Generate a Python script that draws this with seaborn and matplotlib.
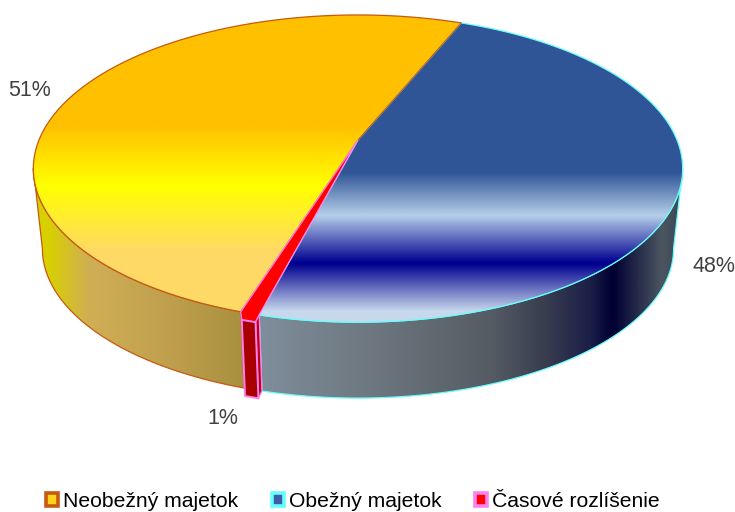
import numpy as np
import matplotlib
matplotlib.use("Agg")
import matplotlib.pyplot as plt
from matplotlib.colors import ListedColormap
from matplotlib.patches import Patch, Polygon
import seaborn as sns

categories = ["Neobežný majetok", "Obežný majetok", "Časové rozlíšenie"]
values = [51.3, 47.9, 0.8]
label_text = ["51%", "48%", "1%"]

edge_colors = ["#C55A11", "#66FFFF", "#FF80F0"]
legend_fill = ["#FFD21E", "#3F5CA8", "#FF0000"]

sns.set_theme(style="white")
plt.rcParams["font.family"] = ["Liberation Sans", "DejaVu Sans"]

W, H = 735, 512
CX, CY = 358.0, 140.0
K, A, B = 0.186, 148.3, 319.0
BOTTOM_SCALE, BOTTOM_CY = 0.972, 221.0
FIRST = 197.6
EXPLODE = (1.0, 8.0)


def rim(t_deg):
    t = np.radians(np.asarray(t_deg, dtype=float))
    w = 1 + K * np.cos(t)
    return CX + B * np.sin(t) / w, CY - A * np.cos(t) / w


def lower(x, y):
    """Map a point on the top face to the matching point on the bottom face."""
    return CX + BOTTOM_SCALE * (x - CX), BOTTOM_CY + BOTTOM_SCALE * (y - CY)


def ramp(stops, n=256):
    """Build a colormap from (position, colour) stops with seaborn blends."""
    lo, hi = stops[0][0], stops[-1][0]
    cols = []
    for (p0, c0), (p1, c1) in zip(stops[:-1], stops[1:]):
        m = max(2, int(round(n * (p1 - p0) / (hi - lo))))
        cols += list(sns.blend_palette([c0, c1], m))
    return ListedColormap(cols), lo, hi


def fill(ax, pts, stops, vertical, z):
    cmap, lo, hi = ramp(stops)
    grad = np.linspace(0, 1, 512)
    if vertical:
        img, ext = grad[:, None], (0, W, hi, lo)
    else:
        img, ext = grad[None, :], (lo, hi, H, 0)
    im = ax.imshow(img, cmap=cmap, extent=ext, aspect="auto", zorder=z,
                   interpolation="bilinear", vmin=0, vmax=1)
    clip = Polygon(pts, closed=True, transform=ax.transData)
    im.set_clip_path(clip)


def outline(ax, pts, color, z, lw=0.9):
    ax.add_patch(Polygon(pts, closed=True, fill=False, edgecolor=color, lw=lw,
                         zorder=z, joinstyle="round"))


def wedge_pts(t0, t1):
    ts = np.linspace(t0, t1, 300)
    x, y = rim(ts)
    return np.column_stack([np.r_[CX, x], np.r_[CY, y]])


def wall_pts(t0, t1, dx=0.0, dy=0.0):
    ts = np.linspace(t0, t1, 300)
    x, y = rim(ts)
    bx, by = lower(x, y)
    return np.column_stack([np.r_[x + dx, bx[::-1] + dx], np.r_[y + dy, by[::-1] + dy]])


top_stops = [
    [(15, "#FFC000"), (125, "#FFC000"), (185, "#FFFF00"), (252, "#FFD966"), (325, "#FFD966")],
    [(15, "#2F5597"), (172, "#2F5597"), (215, "#B4CCE8"), (263, "#000090"), (312, "#C8D8EC"), (325, "#C8D8EC")],
]
wall_stops = [
    [(33, "#D8D000"), (48, "#D8D000"), (90, "#CFAE55"), (150, "#C4A350"), (245, "#A8903F")],
    [(258, "#7F8E9C"), (370, "#6E7880"), (490, "#555C64"), (543, "#3A3F50"), (590, "#1C2048"),
     (613, "#000033"), (663, "#4A5560"), (684, "#3A4552")],
]

shares = np.asarray(values) / np.sum(values) * 360
starts = FIRST + np.r_[0, np.cumsum(shares)[:-1]]
ends = starts + shares

fig = plt.figure(figsize=(W / 100, H / 100), dpi=100, facecolor="white")
ax = fig.add_axes([0, 0, 1, 1])
ax.set_xlim(0, W)
ax.set_ylim(H, 0)
ax.axis("off")

# visible outer walls: front half of the rim between its x extremes
probe = np.linspace(0, 360, 3601)
px, _ = rim(probe)
t_right = probe[np.argmax(px)]
t_left = probe[np.argmin(px)]

yw = wall_pts(FIRST, t_left)
fill(ax, yw, wall_stops[0], False, 1)
outline(ax, yw, edge_colors[0], 2)
bw = wall_pts(t_right + 360, starts[2])
fill(ax, bw, wall_stops[1], False, 1)
outline(ax, bw, edge_colors[1], 2)

# tops
for i in (1, 0):
    pts = wedge_pts(starts[i], ends[i])
    fill(ax, pts, top_stops[i], True, 3)
    outline(ax, pts, edge_colors[i], 4)

# small slice, pulled slightly out of the disc
split = starts[2] + 0.25 * shares[2]
ts = np.linspace(split, ends[2], 40)
rx, ry = rim(ts)
rx, ry = rx + EXPLODE[0], ry + EXPLODE[1]
sx, sy = rim(starts[2])
ex, ey = rim(ends[2])
red_top = np.column_stack([np.r_[CX, sx, rx, ex], np.r_[CY, sy, ry, ey]])
ax.add_patch(Polygon(red_top, closed=True, facecolor="#FF0000", edgecolor=edge_colors[2],
                     lw=0.9, zorder=5))
sbx, sby = lower(sx, sy)
fbx, fby = lower(rx[0] - EXPLODE[0], ry[0] - EXPLODE[1])
side = np.array([[sx, sy], [rx[0], ry[0]], [fbx + EXPLODE[0], fby + EXPLODE[1]], [sbx, sby]])
ax.add_patch(Polygon(side, closed=True, facecolor="#C00010", edgecolor=edge_colors[2], lw=0.9, zorder=6))
ax.add_patch(Polygon(wall_pts(split, ends[2], *EXPLODE), closed=True, facecolor="#A80000",
                     edgecolor=edge_colors[2], lw=1.4, zorder=7))

# percentage labels
label_pos = [(30, 91), (714, 266), (223, 419)]
for s, (x, y) in zip(label_text, label_pos):
    ax.text(x, y, s, ha="center", va="center", fontsize=15.5, color="#404040", zorder=8)

handles = [Patch(facecolor=f, edgecolor=e, linewidth=2.6) for f, e in zip(legend_fill, edge_colors)]
ax.legend(handles, categories, loc="lower left", bbox_to_anchor=(46 / W, 1 / H), ncol=3,
          frameon=False, fontsize=15.2, handlelength=0.58, handleheight=0.58, handletextpad=0.22,
          columnspacing=1.6, borderpad=0, borderaxespad=0, labelcolor="black")

fig.savefig("out.png", dpi=100, facecolor="white")
